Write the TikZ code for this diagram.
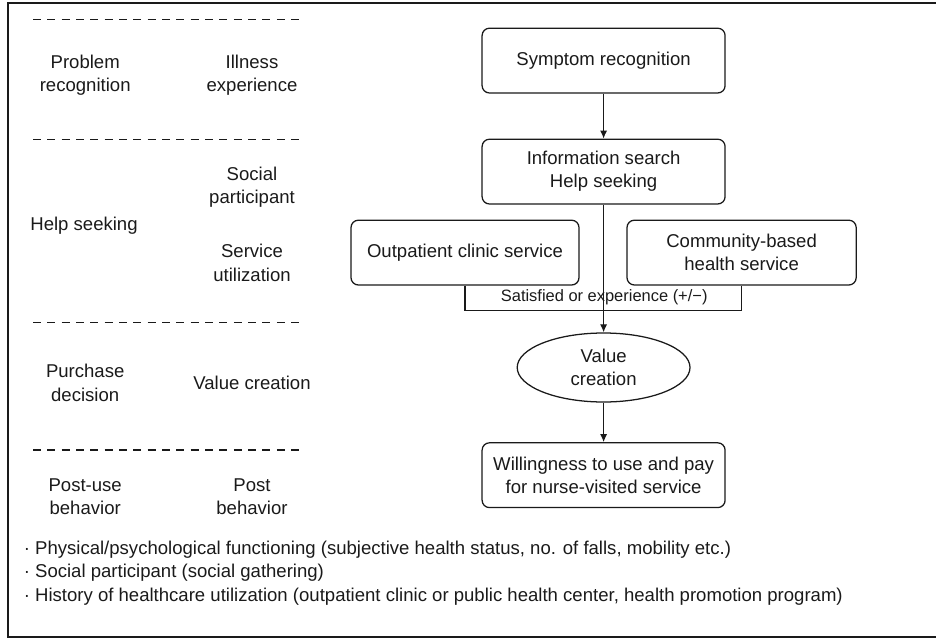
\documentclass[tikz,border=0pt]{standalone}
\usepackage{fontspec}
\setmainfont{Liberation Sans}
\usepackage{tikz}
\usepackage{xcolor}
\usetikzlibrary{arrows.meta,positioning,shapes.geometric,calc}
\definecolor{ink}{HTML}{1A1A1A}
\tikzset{
  stagebox/.style={draw=ink,fill=white,line width=0.6pt,rounded corners=3.5pt,
                   align=center,inner sep=2pt,font=\fontsize{8.8}{11}\selectfont,
                   minimum height=1.08cm,text=ink},
  valueoval/.style={draw=ink,fill=white,ellipse,line width=0.6pt,align=center,
                    inner sep=0pt,minimum width=2.88cm,minimum height=1.15cm,
                    font=\fontsize{8.8}{11}\selectfont,text=ink},
  stagelabel/.style={align=center,inner sep=0pt,
                     font=\fontsize{8.8}{11}\selectfont,text=ink},
  divider/.style={draw=ink,line width=0.5pt,dash pattern=on 3.8pt off 3pt},
  flowarr/.style={-{Latex[length=3.8pt,width=3.4pt]},line width=0.6pt,draw=ink}
}

\begin{document}
\begin{tikzpicture}[x=1cm,y=1cm]
    \path[use as bounding box] (0,0) rectangle (15.6,10.65);
    \draw[ink,line width=0.6pt] (15.6,10.6) -- (0.133,10.6) -- (0.133,0.033) -- (15.6,0.033);

    % left columns
    \draw[divider] (0.55,10.32) -- (5.08,10.32);
    \draw[divider] (0.55,8.33) -- (5.08,8.33);
    \draw[divider] (0.55,5.27) -- (5.08,5.27);
    \draw[divider] (0.55,3.15) -- (5.08,3.15);
    \node[stagelabel] (prob) at (1.42,9.40) {Problem\\recognition};
    \node[stagelabel] (illness) at (4.20,9.40) {Illness\\experience};
    \node[stagelabel] (help) at (1.40,6.88) {Help seeking};
    \node[stagelabel] (social) at (4.20,7.53) {Social\\participant};
    \node[stagelabel] (service) at (4.20,6.27) {Service\\utilization};
    \node[stagelabel] (purchase) at (1.42,4.27) {Purchase\\decision};
    \node[stagelabel] (valuecol) at (4.20,4.27) {Value creation};
    \node[stagelabel] (postuse) at (1.42,2.37) {Post-use\\behavior};
    \node[stagelabel] (postbeh) at (4.20,2.37) {Post\\behavior};

    % flow
    \node[stagebox,minimum width=4.05cm] (symptom) at (10.06,9.64) {Symptom recognition};
    \node[stagebox,minimum width=4.05cm] (search) at (10.06,7.79)
      {Information search\\Help seeking};
    \node[stagebox,minimum width=3.80cm] (outpat) at (7.75,6.44)
      {Outpatient clinic service};
    \node[stagebox,minimum width=3.82cm] (commun) at (12.36,6.44)
      {Community-based\\health service};
    \node[valueoval] (value) at (10.06,4.525) {Value\\creation};
    \node[stagebox,minimum width=4.05cm] (willing) at (10.06,2.73)
      {Willingness to use and pay\\for nurse-visited service};
    \coordinate (satl) at ($(outpat.south)+(0,-0.41)$);
    \coordinate (satr) at ($(commun.south)+(0,-0.41)$);
    \draw[ink,line width=0.6pt] (outpat.south) -- (satl) -- (satr) -- (commun.south);
    \node[stagelabel,font=\fontsize{7.8}{9}\selectfont] (satisfied) at (10.07,5.69)
      {Satisfied or experience (+/−)};
    \draw[flowarr] (symptom) -- (search);
    \draw[flowarr] (search.south) -- (value.north);
    \draw[flowarr] (value) -- (willing);

    % notes
    \node[stagelabel,align=left,anchor=west] (notes) at (0.39,1.10)
      {·\ Physical/psychological functioning (subjective health status, no. of falls, mobility etc.)\\
       ·\ Social participant (social gathering)\\
       ·\ History of healthcare utilization (outpatient clinic or public health center, health promotion program)};
  \end{tikzpicture}
\end{document}
